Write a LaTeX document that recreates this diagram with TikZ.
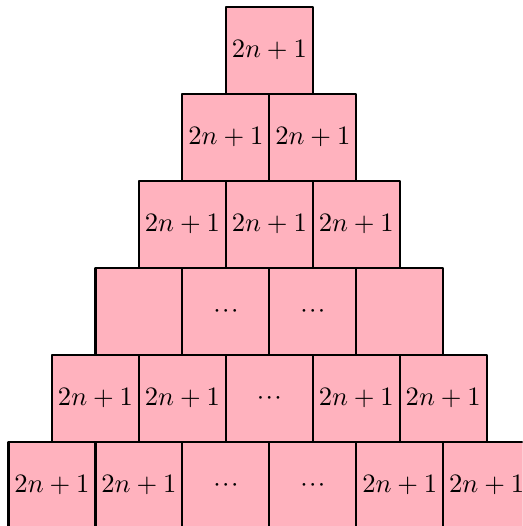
\documentclass[tikz,border=0pt]{standalone}
\usepackage{amsmath}
\usepackage{amssymb}
\usepackage{tikz}

\definecolor{brickpink}{RGB}{255,178,190}
\newcommand{\brickdots}{${\cdot}\mkern1mu{\cdot}\mkern1mu{\cdot}$}

\begin{document}
\begin{tikzpicture}[x=1.15cm,y=1.15cm,
  brick/.style={draw,thick,fill=brickpink,minimum size=1.15cm,inner sep=0pt,line join=round}]

% Frame
\useasboundingbox (0,0) rectangle (6.01,-6.05);
\clip (0,0) rectangle (6.01,-6.05);

% Row 1
\node[brick] (b11) at (3.098,-0.58) {$2n+1$};

% Row 2
\foreach \k in {1,2}
{
\node[brick] (b2\k) at (2.598+\k-1,-1.58) {$2n+1$};
}

% Row 3
\foreach \k in {1,2,3}
{
\node[brick] (b3\k) at (2.098+\k-1,-2.58) {$2n+1$};
}

% Row 4
\foreach \k/\t in {1/{},2/{\brickdots},3/{\brickdots},4/{}}
{
\node[brick] (b4\k) at (1.598+\k-1,-3.58) {\t};
}

% Row 5
\foreach \k/\t in {1/{$2n+1$},2/{$2n+1$},3/{\brickdots},4/{$2n+1$},5/{$2n+1$}}
{
\node[brick] (b5\k) at (1.098+\k-1,-4.58) {\t};
}

% Row 6
\foreach \k/\t in {1/{$2n+1$},2/{$2n+1$},3/{\brickdots},4/{\brickdots},5/{$2n+1$},6/{$2n+1$}}
{
\node[brick] (b6\k) at (0.598+\k-1,-5.58) {\t};
}

\end{tikzpicture}
\end{document}
